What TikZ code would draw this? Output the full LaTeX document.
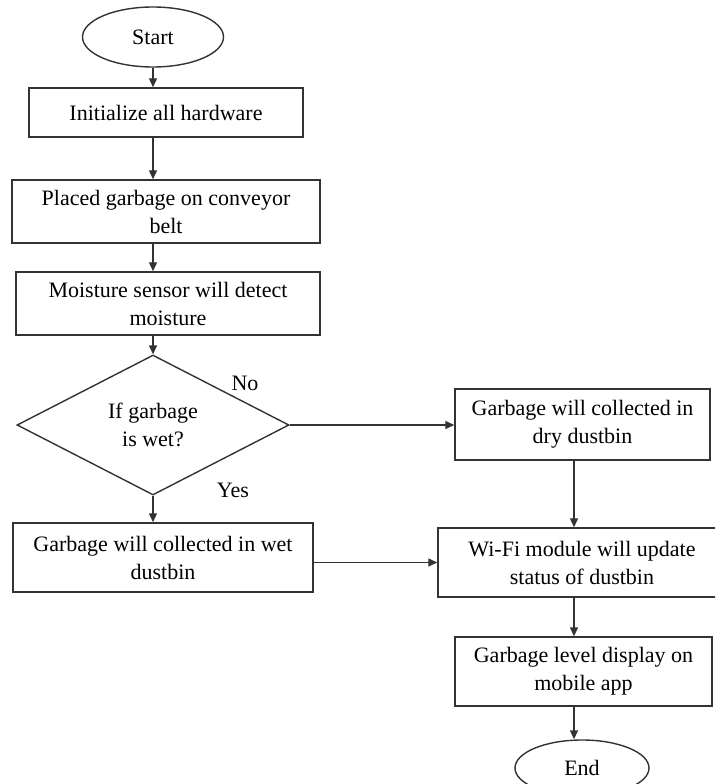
\documentclass[tikz,border=0pt]{standalone}
\usepackage{fontspec}
\setmainfont{Liberation Serif}
\usetikzlibrary{shapes.geometric,arrows.meta}
\definecolor{ln}{HTML}{333333}
\begin{document}
\begin{tikzpicture}[x=1pt,y=-1pt,
  every node/.style={font=\fontsize{22}{28}\selectfont, text=black, align=center},
  proc/.style={draw=ln, line width=1.5pt, rectangle, inner sep=2pt},
  term/.style={draw=ln, line width=1.4pt, ellipse, inner sep=0pt},
  decide/.style={draw=ln, line width=1.4pt, diamond, inner sep=0pt},
  lbl/.style={inner sep=0pt},
  conn/.style={draw=ln, line width=1.4pt, -{Triangle[length=9pt,width=8pt]}}]
\useasboundingbox (0,0) rectangle (715,784);
\clip (0,0) rectangle (715,784);
\fill[white] (0,0) rectangle (715,784);

\node[term, minimum width=141pt, minimum height=60pt] (start) at (153,37) {Start};
\node[proc, minimum width=274pt, minimum height=49pt] (init) at (166,112.5) {Initialize all hardware};
\node[proc, minimum width=308pt, minimum height=63pt] (placed) at (166,211.5) {Placed garbage on conveyor\\belt};
\node[proc, minimum width=304pt, minimum height=63pt] (moist) at (168,303.5) {Moisture sensor will detect\\moisture};
\node[decide, minimum width=272pt, minimum height=140pt, aspect=1.94] (dia) at (153,425) {If garbage\\is wet?};
\node[proc, minimum width=300pt, minimum height=69pt] (wet) at (163,557.5) {Garbage will collected in wet\\dustbin};
\node[proc, minimum width=255pt, minimum height=71pt] (dry) at (582.5,424.5) {Garbage will collected in\\dry dustbin};
\node[proc, minimum width=288pt, minimum height=69pt] (wifi) at (582,562.5) {Wi-Fi module will update\\status of dustbin};
\node[proc, minimum width=257pt, minimum height=69pt] (gl) at (583.5,671.5) {Garbage level display on\\mobile app};
\node[term, minimum width=134pt, minimum height=56pt] (end) at (582,768) {End};

\node[lbl] (no) at (245,383) {No};
\node[lbl] (yes) at (233,490) {Yes};

\coordinate (lc) at (153,0);
\coordinate (rc) at (574,0);

\draw[conn] (start.south) -- (start.south |- init.north);
\draw[conn] (init.south -| lc) -- (placed.north -| lc);
\draw[conn] (placed.south -| lc) -- (moist.north -| lc);
\draw[conn] (moist.south -| lc) -- (dia.north);
\draw[conn] (dia.south) -- (dia.south |- wet.north);
\draw[conn] (dia.east) -- (dia.east -| dry.west);
\draw[conn] (dry.south -| rc) -- (wifi.north -| rc);
\draw[conn] (wifi.west -| wet.east) -- (wifi.west);
\draw[conn] (wifi.south -| rc) -- (gl.north -| rc);
\draw[conn] (gl.south -| rc) -- (end.north -| rc);
\end{tikzpicture}
\end{document}
